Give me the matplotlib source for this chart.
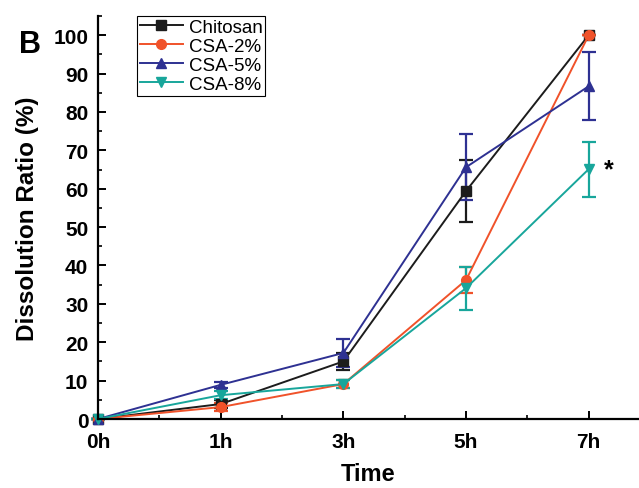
import matplotlib
matplotlib.use("Agg")
import matplotlib.pyplot as plt
from matplotlib.ticker import MultipleLocator, FixedLocator
from matplotlib.lines import Line2D

plt.rcParams['font.family'] = ['Liberation Sans', 'DejaVu Sans']

time_labels = ["0h", "1h", "3h", "5h", "7h"]
x_pos = [0, 1, 2, 3, 4]

chitosan = [0, 3.9, 15.0, 59.4, 100]
chitosan_err = [0, 1.0, 2.2, 8.0, 0]
csa2 = [0, 3.1, 9.1, 36.2, 100]
csa2_err = [0, 1.0, 1.0, 3.4, 0]
csa5 = [0, 8.9, 17.2, 65.6, 86.7]
csa5_err = [0, 0.8, 3.7, 8.6, 8.9]
csa8 = [0, 6.2, 9.1, 34.1, 65.1]
csa8_err = [0, 1.0, 1.0, 5.6, 7.2]

series = [
    ("Chitosan", chitosan, chitosan_err, "#1c1c1c", "s"),
    ("CSA-2%", csa2, csa2_err, "#f0522a", "o"),
    ("CSA-5%", csa5, csa5_err, "#2e3192", "^"),
    ("CSA-8%", csa8, csa8_err, "#18a69b", "v"),
]

fig = plt.figure(figsize=(6.39, 4.89), dpi=100)
ax = fig.add_axes([98 / 639, 1 - 420 / 489, 541 / 639, 403 / 489])

handles = []
for name, vals, errs, col, mk in series:
    ax.errorbar(x_pos, vals, yerr=errs, color=col, marker=mk, markersize=7,
                linewidth=1.4, elinewidth=1.6, capsize=5, capthick=1.6,
                clip_on=False)
    handles.append(Line2D([], [], color=col, marker=mk, markersize=7,
                          linewidth=1.4, label=name))

ax.set_xlim(0, 4.41)
ax.set_ylim(0, 105)
ax.xaxis.set_major_locator(FixedLocator(x_pos))
ax.set_xticklabels(time_labels)
ax.xaxis.set_minor_locator(FixedLocator([0.5, 1.5, 2.5, 3.5]))
ax.set_yticks(range(0, 101, 10))
ax.yaxis.set_minor_locator(MultipleLocator(5))

for s in ["top", "right"]:
    ax.spines[s].set_visible(False)
for s in ["left", "bottom"]:
    ax.spines[s].set_linewidth(1.6)

ax.tick_params(axis="both", which="major", direction="in", length=5.5, width=1.4,
               labelsize=15)
ax.tick_params(axis="y", which="major", pad=7)
ax.tick_params(axis="x", which="major", pad=9)
ax.tick_params(axis="both", which="minor", direction="in", length=3, width=1.2)
for lbl in ax.get_xticklabels() + ax.get_yticklabels():
    lbl.set_fontweight("bold")

ax.set_xlabel("Time", fontsize=17, fontweight="bold", labelpad=8)
ax.set_ylabel("Dissolution Ratio (%)", fontsize=17.5, fontweight="bold", labelpad=10)

leg = ax.legend(handles=handles, loc="upper left",
                bbox_to_anchor=((137 - 98) / 541, 1.0), fontsize=13.5,
                frameon=True, fancybox=False, edgecolor="black", framealpha=1,
                handlelength=2.3, borderpad=0.15, labelspacing=0.1,
                handletextpad=0.3, borderaxespad=0)
leg.get_frame().set_linewidth(0.8)

ax.text(4.16, 65.1, "*", fontsize=18, fontweight="bold", va="center", ha="center")
fig.text(0.047, 0.908, "B", fontsize=22, fontweight="bold", ha="center", va="center")

fig.savefig("out.png", dpi=100)
